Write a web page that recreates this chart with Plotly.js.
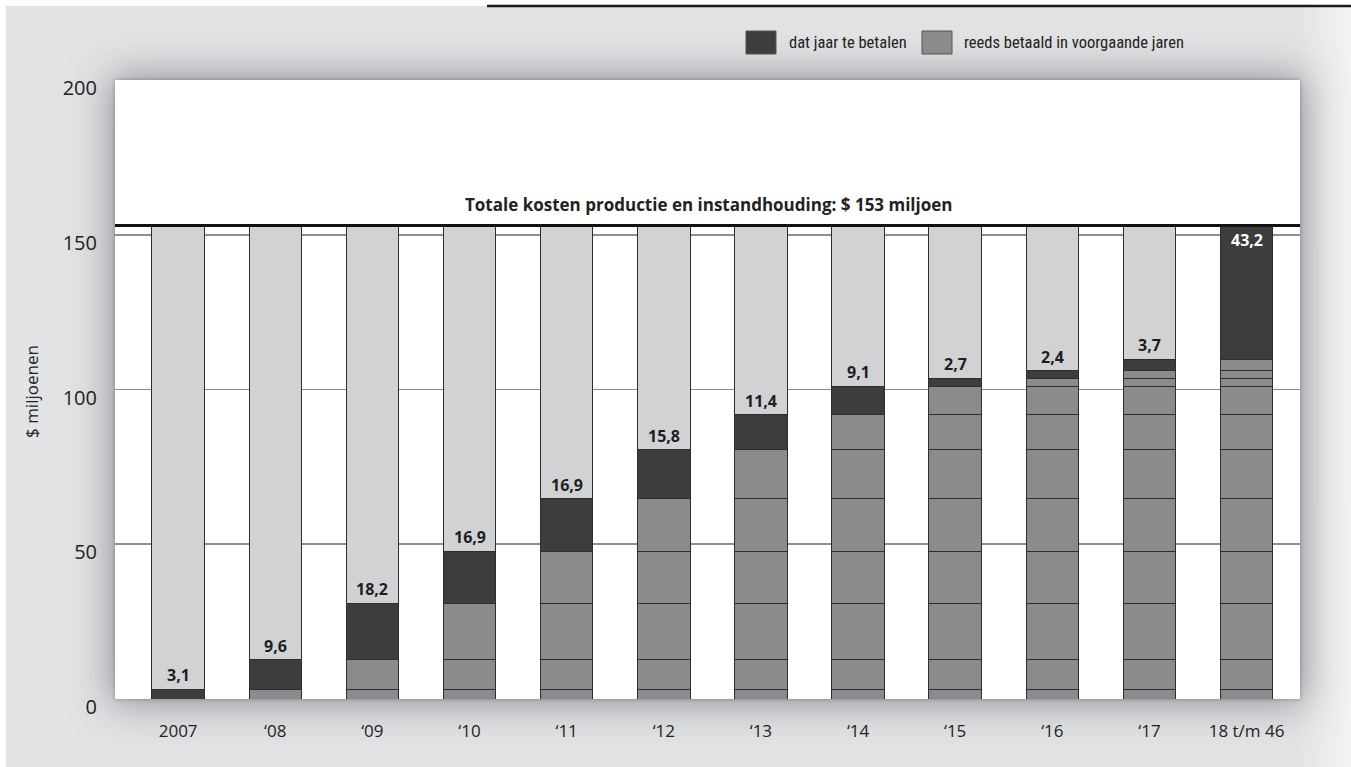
<!DOCTYPE html>
<html>
<head>
<meta charset="utf-8">
<script src="https://cdn.plot.ly/plotly-3.0.1.min.js"></script>
<style>
  html, body { margin: 0; padding: 0; background: #ffffff; width: 1351px; height: 767px; overflow: hidden; }
  #bg { position: absolute; left: 6px; top: 6px; right: 0; bottom: 0;
        background: linear-gradient(to right, #e2e3e4 0%, #e2e3e4 96%, #f3f3f3 100%); }
  #panel { position: absolute; left: 115px; top: 80px; width: 1185px; height: 619px; background: #fff;
           box-shadow: 0 0 4px rgba(60,60,70,0.4), 0 0 38px 3px rgba(60,60,75,0.5); }
  #chart { position: absolute; left: 0; top: 0; width: 1351px; height: 767px; }
</style>
</head>
<body>
<div id="bg"></div>
<div id="panel"></div>
<div id="chart"></div>
<script>
// ---- data ----
const categories = ['2007', '\u201808', '\u201809', '\u201810', '\u201811', '\u201812', '\u201813', '\u201814', '\u201815', '\u201816', '\u201817', '18 t/m 46'];
const payments = [3.1, 9.6, 18.2, 16.9, 16.9, 15.8, 11.4, 9.1, 2.7, 2.4, 3.7, 43.2];
const totalCost = 153;
const totalLabel = 'Totale kosten productie en instandhouding: $ 153 miljoen';
const legendLabels = ['dat jaar te betalen', 'reeds betaald in voorgaande jaren'];
const yTicks = [0, 50, 100, 150, 200];
const yTitle = '$ miljoenen';

// ---- styles ----
const C_DARK = '#3d3d3e';
const C_MID = '#8a8b8d';
const C_LIGHT = '#d1d2d4';
const C_EDGE = '#2e2e2e';

const L = 115, T = 80, PW = 1185, PH = 619;
const px = x => (x - L) / PW;
const py = y => (T + PH - y) / PH;

// cumulative totals
const cum = [];
payments.reduce((s, v, i) => { cum[i] = +(s + v).toFixed(1); return cum[i]; }, 0);

const traces = [];
// one trace per year's payment: dark in its own year, grey in later years
payments.forEach((v, j) => {
  traces.push({
    type: 'bar',
    x: categories,
    y: categories.map((c, i) => (i >= j ? v : null)),
    marker: {
      color: categories.map((c, i) => (i === j ? C_DARK : C_MID)),
      line: { color: C_EDGE, width: 1 }
    },
    width: 0.54,
    hoverinfo: 'skip',
    showlegend: false
  });
});
// remaining to reach the total
traces.push({
  type: 'bar',
  x: categories,
  y: cum.map(c => { const r = +(totalCost - c).toFixed(1); return r > 0 ? r : null; }),
  marker: { color: C_LIGHT, line: { color: C_EDGE, width: 1 } },
  width: 0.54,
  hoverinfo: 'skip',
  showlegend: false
});

const annotations = [];
payments.forEach((v, i) => {
  const last = i === payments.length - 1;
  annotations.push({
    x: i, y: cum[i], xref: 'x', yref: 'y',
    text: v.toFixed(1).replace('.', ','),
    showarrow: false,
    xanchor: 'center',
    yanchor: 'middle',
    yshift: last ? -15 : 14,
    font: { family: 'Open Sans, sans-serif', size: 16, color: last ? '#ffffff' : '#1e1e1e', weight: 700 }
  });
});
annotations.push({
  x: px(709), xref: 'paper', xanchor: 'center', y: totalCost, yref: 'y', yanchor: 'middle', yshift: 21,
  text: '<b>' + totalLabel + '</b>', showarrow: false,
  font: { family: 'Open Sans, sans-serif', size: 17, color: '#222' }
});
annotations.push({
  x: px(32), xref: 'paper', xanchor: 'center', y: py(392), yref: 'paper', yanchor: 'middle', textangle: -90,
  text: yTitle, showarrow: false,
  font: { family: 'Open Sans, sans-serif', size: 17, color: '#222' }
});
// legend
annotations.push({
  x: px(787), xref: 'paper', xanchor: 'left', y: py(42.5), yref: 'paper', yanchor: 'middle',
  text: legendLabels[0], showarrow: false,
  font: { family: 'Liberation Sans Narrow, Roboto Condensed, Roboto, sans-serif', size: 16.5, color: '#222' }
});
annotations.push({
  x: px(962), xref: 'paper', xanchor: 'left', y: py(42.5), yref: 'paper', yanchor: 'middle',
  text: legendLabels[1], showarrow: false,
  font: { family: 'Liberation Sans Narrow, Roboto Condensed, Roboto, sans-serif', size: 16.5, color: '#222' }
});

const shapes = [
  // total cost line
  { type: 'line', xref: 'paper', x0: 0, x1: 1, yref: 'y', y0: totalCost, y1: totalCost,
    line: { color: '#111', width: 3 }, layer: 'above' },
  // top decorative rule
  { type: 'line', xref: 'paper', x0: px(487), x1: px(1351), yref: 'paper', y0: py(6), y1: py(6),
    line: { color: '#1a1a1a', width: 2.5 } },
  // legend swatches
  { type: 'rect', xref: 'paper', yref: 'paper', x0: px(746), x1: px(776), y0: py(54), y1: py(31),
    fillcolor: C_DARK, line: { color: '#555', width: 1 } },
  { type: 'rect', xref: 'paper', yref: 'paper', x0: px(922), x1: px(952), y0: py(54), y1: py(31),
    fillcolor: C_MID, line: { color: '#555', width: 1 } }
];

const layout = {
  width: 1351, height: 767,
  margin: { l: L, r: 1351 - L - PW, t: T, b: 767 - T - PH, pad: 0 },
  paper_bgcolor: 'rgba(0,0,0,0)',
  plot_bgcolor: '#ffffff',
  barmode: 'stack',
  bargap: 0,
  showlegend: false,
  xaxis: {
    type: 'category',
    range: [-0.65, 11.55],
    showgrid: false, zeroline: false, showline: false, ticks: '',
    ticklabelstandoff: 20,
    tickfont: { family: 'Open Sans, sans-serif', size: 17, color: '#222' },
    fixedrange: true
  },
  yaxis: {
    range: [0, 200],
    tickvals: yTicks,
    showgrid: true, gridcolor: '#8f8f91', gridwidth: 1.6,
    zeroline: false, showline: false, ticks: '',
    ticklabelstandoff: 17,
    ticklabelshift: 8,
    tickfont: { family: 'Open Sans, sans-serif', size: 20, color: '#222' },
    fixedrange: true
  },
  annotations: annotations,
  shapes: shapes
};

Plotly.newPlot('chart', traces, layout, { displayModeBar: false, staticPlot: true });
</script>
</body>
</html>
